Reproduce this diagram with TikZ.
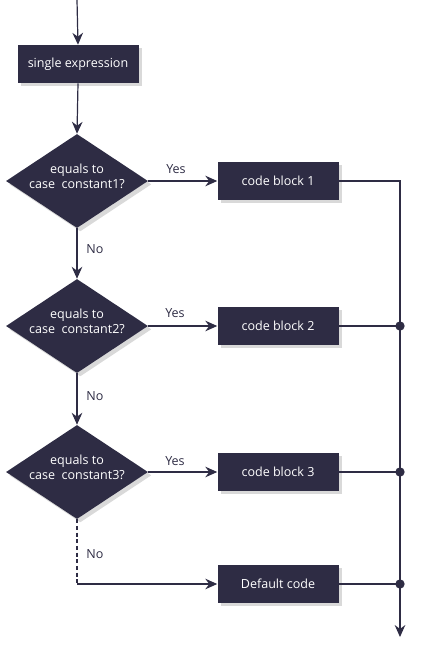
\documentclass[tikz,border=0pt]{standalone}
\usepackage{fontspec}
\setmainfont{Open Sans}
\usetikzlibrary{arrows.meta,shapes.geometric,shadows}
\definecolor{navy}{RGB}{46,44,68}
\begin{document}
\begin{tikzpicture}[x=0.75pt,y=-0.75pt,
  font=\fontsize{9.4}{11}\selectfont,
  conn/.style={draw=navy,line width=0.9pt},
  arr/.style={conn,-{Stealth[length=9pt,width=8pt,inset=3pt]}},
  boxsty/.style={rectangle,fill=navy,text=white,minimum width=90.75pt,minimum height=28.5pt,inner sep=0pt,
     drop shadow={shadow xshift=2.5pt,shadow yshift=-2.5pt,opacity=0.3,fill=gray}},
  decsty/.style={diamond,fill=navy,minimum width=106.5pt,minimum height=70.5pt,inner sep=0pt,
     drop shadow={shadow xshift=2.5pt,shadow yshift=-2.5pt,opacity=0.3,fill=gray}},
  dectext/.style={text=white,align=center,font=\fontsize{9.4}{11.5}\selectfont},
  lbl/.style={text=navy},
  dot/.style={circle,fill=navy,inner sep=0pt,minimum size=7pt}]
\useasboundingbox (0,0) rectangle (430,647);
\coordinate (top) at (77,0);
\node[boxsty] (se) at (78,64) {single expression};
\node[decsty] (d1) at (77,181) {};
\node[dectext] (d1t) at (77,176) {equals to\\case\ \ constant1?};
\node[decsty] (d2) at (77,326) {};
\node[dectext] (d2t) at (77,321) {equals to\\case\ \ constant2?};
\node[decsty] (d3) at (77,472) {};
\node[dectext] (d3t) at (77,467) {equals to\\case\ \ constant3?};
\node[boxsty] (b1) at (278,181) {code block 1};
\node[boxsty] (b2) at (278,326) {code block 2};
\node[boxsty] (b3) at (278,472) {code block 3};
\node[boxsty] (bd) at (278,584) {Default code};
\coordinate (c1) at (400,181);
\node[dot] (p2) at (400,326) {};
\node[dot] (p3) at (400,472) {};
\node[dot] (pd) at (400,584) {};
\coordinate (endp) at (400,637);
\coordinate (nd) at (77,584);
% connectors
\draw[arr] (top) -- (se.north);
\draw[arr] (se.south) -- (d1.north);
\draw[arr] (d1.south) -- (d2.north);
\draw[arr] (d2.south) -- (d3.north);
\draw[arr] (d1.east) -- (b1.west);
\draw[arr] (d2.east) -- (b2.west);
\draw[arr] (d3.east) -- (b3.west);
\draw[conn,dashed,dash pattern=on 3pt off 2pt] (d3.south) -- (nd);
\draw[arr] (nd) -- (bd.west);
\draw[conn] (b1.east) -- (c1) -- (p2.center);
\draw[conn] (b2.east) -- (p2.center);
\draw[conn] (b3.east) -- (p3.center);
\draw[conn] (bd.east) -- (pd.center);
\draw[conn] (p2.center) -- (p3.center) -- (pd.center);
\draw[arr] (pd.center) -- (endp);
% labels
\node[lbl] (y1) at (176,169) {Yes};
\node[lbl] (y2) at (175,313) {Yes};
\node[lbl] (y3) at (175,461) {Yes};
\node[lbl] (n1) at (95,249) {No};
\node[lbl] (n2) at (95,396) {No};
\node[lbl] (n3) at (95,554) {No};
\end{tikzpicture}
\end{document}
